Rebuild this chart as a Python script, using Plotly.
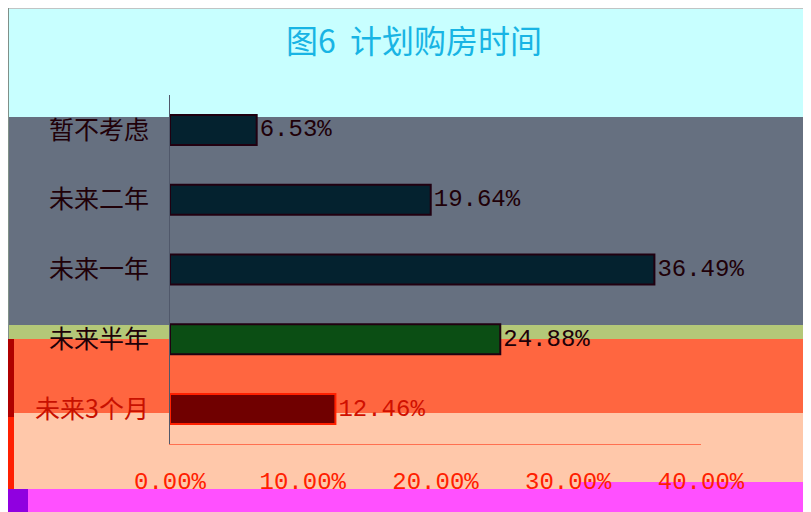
import plotly.graph_objects as go

# ---- data ----
categories = ["暂不考虑", "未来二年", "未来一年", "未来半年", "未来3个月"]
values = [6.53, 19.64, 36.49, 24.88, 12.46]
x_ticks = [0, 10, 20, 30, 40]
x_ticklabels = ["0.00%", "10.00%", "20.00%", "30.00%", "40.00%"]
title_text = "图6  计划购房时间"

# ---- styles ----
W, H = 811, 512
OFF = 8  # page body margin
ML, MT = 170 - OFF, 95 - OFF
PW, PH = 531, 349
MR, MB = W - ML - PW, H - MT - PH

bar_fill = ["#04222f", "#04222f", "#04222f", "#0b4e14", "#700000"]
bar_line = ["#200010", "#200010", "#200010", "#200010", "#ff2000"]
text_col = ["#200008", "#200008", "#200008", "#200008", "#d01000"]
label_col = ["#200008", "#200008", "#200008", "#200008", "#c81000"]


def px(x):
    return (x - OFF - ML) / PW


def py(y):
    return (MT + PH - (y - OFF)) / PH


def band(x0, y0, x1, y1, color):
    return dict(type="rect", xref="paper", yref="paper", layer="below",
                x0=px(x0), x1=px(x1), y0=py(y1), y1=py(y0),
                fillcolor=color, line=dict(width=0))


SW, SH = W + OFF, H + OFF
shapes = [
    band(8, 8, SW, 9, "#c0c4c4"),
    band(8, 8, 9, 339, "#809088"),
    band(9, 9, SW, 117, "#c8ffff"),
    band(9, 117, SW, 325, "#667080"),
    band(9, 325, SW, 339, "#b4c878"),
    band(9, 339, SW, 413, "#ff6640"),
    band(9, 413, SW, 489, "#ffc8aa"),
    band(580, 482, SW, 489, "#ff50ff"),
    band(8, 489, SW, SH, "#ff50ff"),
    band(8, 489, 28, SH, "#9000e0"),
    band(8, 339, 14, 417, "#b00000"),
    band(8, 417, 14, 489, "#ff2000"),
]

ticktext = [f"<span style='color:{c}'>{t}</span>" for t, c in zip(categories, label_col)]

fig = go.Figure(
    go.Bar(
        y=categories,
        x=values,
        orientation="h",
        width=0.43,
        marker=dict(color=bar_fill, line=dict(color=bar_line, width=2)),
        text=[f"{v:.2f}%" for v in values],
        textposition="outside",
        textfont=dict(family="Liberation Mono", size=24, color=text_col),
        cliponaxis=False,
        hoverinfo="skip",
    )
)

fig.update_layout(
    width=W, height=H, autosize=False,
    margin=dict(l=ML, r=MR, t=MT, b=MB, pad=0),
    paper_bgcolor="#c8ffff",
    plot_bgcolor="rgba(0,0,0,0)",
    shapes=shapes,
    showlegend=False,
    title=dict(text=title_text, x=(414 - OFF) / W, xanchor="center", xref="container",
               y=1 - (42 - OFF) / H, yanchor="middle", yref="container",
               font=dict(family="Noto Sans CJK SC", size=32, color="#18b4e4")),
    xaxis=dict(range=[0, 40], tickvals=x_ticks, ticktext=x_ticklabels,
               showgrid=False, zeroline=False, showline=True,
               linecolor="#ff7050", linewidth=1, ticks="",
               ticklabelstandoff=15,
               tickfont=dict(family="Liberation Mono", size=24, color="#ff2000")),
    yaxis=dict(type="category", autorange="reversed",
               tickvals=categories, ticktext=ticktext,
               showgrid=False, zeroline=False, showline=True,
               linecolor="#50586a", linewidth=1, ticks="",
               ticklabelstandoff=15,
               tickfont=dict(family="Noto Sans CJK SC", size=25, color="#200008")),
)

fig.write_html("out.html")
